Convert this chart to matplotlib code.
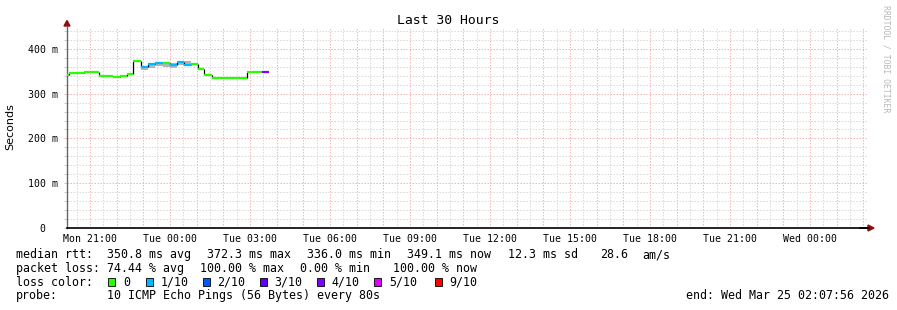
import pandas as pd
import numpy as np
import matplotlib
matplotlib.use("Agg")
import matplotlib.pyplot as plt
import matplotlib.dates as mdates
from matplotlib.patches import Rectangle, Polygon

W, H = 897, 310
MONO = "DejaVu Sans Mono"

# --- Data ---
start = pd.Timestamp("2026-03-23 20:07:56")
end = pd.Timestamp("2026-03-25 02:07:56")

step_edges = ["03-23 20:08", "03-23 20:13", "03-23 20:46", "03-23 21:19", "03-23 21:52",
              "03-23 22:07", "03-23 22:22", "03-23 22:37", "03-23 22:54", "03-23 23:10",
              "03-23 23:26", "03-23 23:43", "03-24 00:00", "03-24 00:15", "03-24 00:31",
              "03-24 00:47", "03-24 01:02", "03-24 01:17", "03-24 01:34", "03-24 02:54",
              "03-24 03:26", "03-24 03:43"]
median_ms = [341, 346, 349, 340, 338, 340, 344, 372.3, 360, 367, 369, 368, 363, 371,
             364, 366, 355, 341, 336, 349, 349.1]
loss_idx = [0, 0, 0, 0, 0, 0, 0, 0, 1, 1, 1, 0, 1, 1, 1, 0, 0, 0, 0, 0, 4]
smoke_lo = [341, 346, 349, 340, 338, 340, 344, 372, 353, 358, 362, 360, 357, 364,
            363, 366, 355, 341, 336, 349, 349]
smoke_hi = [341, 346, 349, 340, 338, 340, 344, 372, 361, 368, 370, 369, 368, 372,
            372, 366, 355, 341, 336, 349, 349]

loss_labels = ["0", "1/10", "2/10", "3/10", "4/10", "5/10", "9/10"]
loss_colors = ["#26ff00", "#00b8ff", "#0059ff", "#5e00ff", "#7e00ff", "#dd00ff", "#ff0000"]

edges = [pd.Timestamp("2026-" + s) for s in step_edges]


def fx(px):
    return px / W


def fy(py):
    return 1 - py / H


fig = plt.figure(figsize=(W / 100, H / 100), dpi=100)
fig.patch.set_facecolor("white")
ax = fig.add_axes([fx(67), fy(228), fx(867) - fx(67), fy(26.5) - fy(228)])
ax.set_facecolor("white")

ax.set_xlim(start, end)
ax.set_ylim(0, 450)

# grid (rrdtool style dotted)
minor_kw = dict(color="#dadada", lw=0.72, ls=(0, (1.5, 1.5)), zorder=0)
major_kw = dict(color="#f5b8b8", lw=0.72, ls=(0, (1.5, 1.5)), zorder=0)
half_hours = pd.date_range("2026-03-23 20:30", end, freq="30min")
for t in half_hours:
    if t.minute == 0:
        ax.axvline(t, **major_kw)
    else:
        ax.axvline(t, **minor_kw)
for v in range(20, 450, 20):
    if v % 100 == 0:
        ax.axhline(v, **major_kw)
    else:
        ax.axhline(v, **minor_kw)

# smoke
for i in range(len(median_ms)):
    if smoke_hi[i] > smoke_lo[i]:
        ax.fill_between([edges[i], edges[i + 1]], smoke_lo[i], smoke_hi[i],
                        color="#b4b4b4", lw=0, zorder=2)

# median: black risers, coloured treads
for i in range(1, len(median_ms)):
    ax.vlines(edges[i], median_ms[i - 1], median_ms[i], color="black", lw=0.9, zorder=3)
for i, v in enumerate(median_ms):
    ax.plot([edges[i], edges[i + 1]], [v, v], color=loss_colors[loss_idx[i]],
            lw=1.6, solid_capstyle="butt", zorder=4)

# axes styling
for s in ["top", "right"]:
    ax.spines[s].set_visible(False)
ax.spines["left"].set_color("#666666")
ax.spines["left"].set_linewidth(1.0)
ax.spines["bottom"].set_color("black")
ax.spines["bottom"].set_linewidth(1.2)
ax.spines["bottom"].set_zorder(5)

ax.set_yticks([0, 100, 200, 300, 400])
ax.set_yticklabels(["0  ", "100 m", "200 m", "300 m", "400 m"], fontfamily=MONO, fontsize=7.1)
ax.set_yticks(range(20, 450, 20), minor=True)
ax.xaxis.set_major_locator(mdates.HourLocator(byhour=[0, 3, 6, 9, 12, 15, 18, 21]))
ax.xaxis.set_major_formatter(mdates.DateFormatter("%a %H:%M"))
for lab in ax.get_xticklabels():
    lab.set_fontfamily(MONO)
    lab.set_fontsize(7.1)
ax.tick_params(axis="y", which="both", length=2, width=0.6, color="#c0c0c0", pad=4.5)
ax.tick_params(axis="x", which="both", length=0, pad=4.5)

# arrows
fig.add_artist(Polygon([[fx(64), fy(26)], [fx(70), fy(26)], [fx(67), fy(20.5)]],
                       closed=True, color="#8b1010", transform=fig.transFigure))
fig.add_artist(Polygon([[fx(868), fy(225)], [fx(868), fy(231)], [fx(874), fy(228)]],
                       closed=True, color="#8b1010", transform=fig.transFigure))
fig.add_artist(plt.Line2D([fx(860), fx(869)], [fy(228), fy(228)], color="black", lw=1.2,
                          transform=fig.transFigure))

fig.text(fx(10), fy(127), "Seconds", rotation=90, ha="center", va="center", fontsize=8)

# title and watermark
fig.text(fx(448), fy(24), "Last 30 Hours", ha="center", va="baseline", fontfamily=MONO,
         fontsize=9.45)
fig.text(fx(886), fy(5), "RRDTOOL / TOBI OETIKER", rotation=270, ha="center", va="top",
         fontfamily=MONO, fontsize=5.9, color="#b8b8b8")

# legend block
rows = [
    [(16, "median rtt:"), (107.3, "350.8 ms avg"), (207.3, "372.3 ms max"),
     (307.3, "336.0 ms min"), (407.3, "349.1 ms now"), (508.3, "12.3 ms sd"),
     (600, "28.6"), (642.7, "am/s")],
    [(16, "packet loss:"), (107.3, "74.44 % avg"), (200, "100.00 % max"),
     (300, "0.00 % min"), (392.7, "100.00 % now")],
    [(16, "loss color:")],
    [(16, "probe:"), (107.3, "10 ICMP Echo Pings (56 Bytes) every 80s")],
]
baselines = [258, 271.8, 285.6, 299.4]
for row, yb in zip(rows, baselines):
    for x, s in row:
        fig.text(fx(x), fy(yb), s, ha="left", va="baseline", fontfamily=MONO, fontsize=8.4)

square_x = [108.3, 145.7, 202.7, 260, 317.3, 374.3, 435]
for x, lab, col in zip(square_x, loss_labels, loss_colors):
    fig.add_artist(Rectangle((fx(x), fy(285.7)), 7 / W, 8 / H, facecolor=col,
                             edgecolor="black", lw=0.6, transform=fig.transFigure))
    fig.text(fx(x + 14.5), fy(285.6), lab, ha="left", va="baseline", fontfamily=MONO,
             fontsize=8.4)

fig.text(fx(889), fy(299.4), "end: Wed Mar 25 02:07:56 2026", ha="right", va="baseline",
         fontfamily=MONO, fontsize=8.4)

fig.savefig("out.png", dpi=100)
